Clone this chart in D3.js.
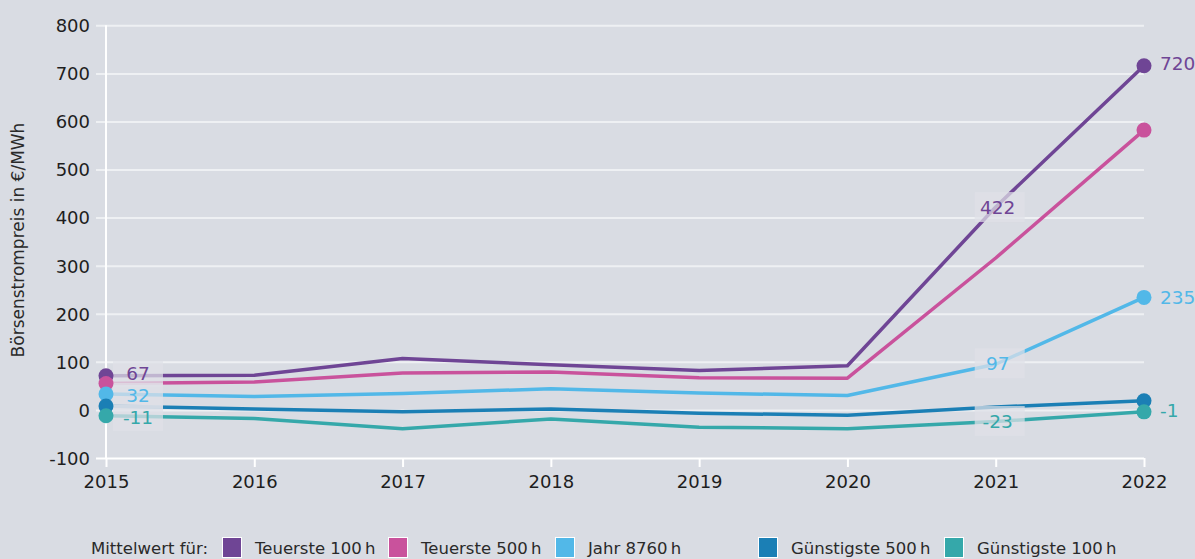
<!DOCTYPE html>
<html>
<head>
<meta charset="utf-8">
<script src="https://cdn.jsdelivr.net/npm/d3@7"></script>
<style>
  html, body { margin: 0; padding: 0; background: #d9dce3; }
  svg { display: block; font-family: "DejaVu Sans", sans-serif; }
</style>
</head>
<body>
<svg id="chart" width="1195" height="559"></svg>
<script>
// ---- data ----
const years = [2015, 2016, 2017, 2018, 2019, 2020, 2021, 2022];
const yTicks = [-100, 0, 100, 200, 300, 400, 500, 600, 700, 800];
const seriesNames = ["Teuerste 100\u202Fh", "Teuerste 500\u202Fh", "Jahr 8760\u202Fh", "Günstigste 500\u202Fh", "Günstigste 100\u202Fh"];
const seriesColors = ["#6f4595", "#c9529c", "#52b8e8", "#1b7fb5", "#35a8aa"];
const teuerste100 = [71, 72, 107, 94, 82, 92, 422, 716];
const teuerste500 = [55, 58, 77, 79, 67, 66, 316, 582];
const jahr8760 = [33, 28, 34, 44, 35, 30, 95, 234];
const guenstigste500 = [8, 2, -4, 2, -7, -11, 6, 19];
const guenstigste100 = [-12, -18, -39, -19, -36, -39, -24, -4];
const seriesValues = [teuerste100, teuerste500, jahr8760, guenstigste500, guenstigste100];
// labels: [2015 label, 2021 label, 2022 label] (null = none)
const labelsStart = ["67", null, "32", null, "-11"];
const labelsMid = ["422", null, "97", null, "-23"];
const labelsEnd = ["720", null, "235", null, "-1"];
const labelValStart = [67, null, 32, null, -11];
const labelValMid = [422, null, 97, null, -23];
const labelValEnd = [720, null, 235, null, -1];
const yTitle = "Börsenstrompreis in €/MWh";
const legendTitle = "Mittelwert für:";

// ---- layout ----
const svg = d3.select("#chart");
const x = d3.scaleLinear().domain([2015, 2022]).range([106, 1144]);
const y = d3.scaleLinear().domain([-100, 800]).range([458, 25.3]);
const fmt = d => String(d);

// gridlines + y ticks
const yAxis = d3.axisLeft(y).tickValues(yTicks).tickFormat(fmt).tickSizeOuter(0).tickSizeInner(0).tickPadding(16);
const gy = svg.append("g").attr("transform", "translate(106,0)").call(yAxis);
gy.select(".domain").remove();
gy.selectAll(".tick line").remove();
gy.selectAll(".tick").append("line")
  .attr("x1", -10).attr("x2", 1144 - 106)
  .attr("stroke", d => d === -100 ? "#ffffff" : "#eef0f3")
  .attr("stroke-width", 2);
gy.selectAll(".tick text")
  .attr("fill", "#1e1e1e").attr("font-size", 18).attr("font-family", "DejaVu Sans, sans-serif")
  .attr("x", -16).attr("dy", "0.35em");

// y axis vertical line
svg.append("line").attr("x1", 106).attr("x2", 106).attr("y1", y(800)).attr("y2", y(-100))
  .attr("stroke", "#ffffff").attr("stroke-width", 2);

// x axis
const xAxis = d3.axisBottom(x).tickValues(years).tickFormat(fmt).tickSizeOuter(0).tickSize(9).tickPadding(8);
const gx = svg.append("g").attr("transform", `translate(0,${y(-100)})`).call(xAxis);
gx.select(".domain").remove();
gx.selectAll(".tick line").attr("stroke", "#ffffff").attr("stroke-width", 2);
gx.selectAll(".tick text").attr("fill", "#1e1e1e").attr("font-size", 18).attr("font-family", "DejaVu Sans, sans-serif");

// y title
svg.append("text")
  .attr("transform", `translate(24,240) rotate(-90)`)
  .attr("text-anchor", "middle")
  .attr("font-size", 17)
  .attr("fill", "#2a2a2a")
  .text(yTitle);

// lines
const line = d3.line().x((d, i) => x(years[i])).y(d => y(d));
seriesValues.forEach((vals, si) => {
  svg.append("path").datum(vals)
    .attr("d", line)
    .attr("fill", "none")
    .attr("stroke", seriesColors[si])
    .attr("stroke-width", 3.5)
    .attr("stroke-linejoin", "round");
});

// spread label positions so they don't collide (min gap in px)
function spread(vals, gap) {
  const items = vals.map((v, i) => v === null ? null : { i, p: y(v) }).filter(d => d);
  items.sort((a, b) => a.p - b.p);
  for (let iter = 0; iter < 50; iter++) {
    let moved = false;
    for (let k = 1; k < items.length; k++) {
      const d = items[k].p - items[k - 1].p;
      if (d < gap) {
        const s = (gap - d) / 2;
        items[k - 1].p -= s; items[k].p += s; moved = true;
      }
    }
    if (!moved) break;
  }
  const out = vals.map(() => null);
  items.forEach(d => out[d.i] = d.p);
  return out;
}
const startPos = spread(labelValStart, 22);
const midPos = spread(labelValMid, 22);
const endPos = spread(labelValEnd, 22);

// label bands
const bandFill = "#dfe1e7";
const bands = svg.append("g");
seriesValues.forEach((vals, si) => {
  if (labelsStart[si] !== null) {
    bands.append("rect").attr("x", 113).attr("width", 50)
      .attr("y", startPos[si] - 13).attr("height", 26)
      .attr("fill", bandFill).attr("opacity", 0.72);
  }
  if (labelsMid[si] !== null) {
    bands.append("rect").attr("x", x(2021) - 21).attr("width", 50)
      .attr("y", midPos[si] - 15).attr("height", 30)
      .attr("fill", bandFill).attr("opacity", 0.72);
  }
});

// dots at ends
seriesValues.forEach((vals, si) => {
  [0, years.length - 1].forEach(i => {
    svg.append("circle").attr("cx", x(years[i])).attr("cy", y(vals[i])).attr("r", 7.5)
      .attr("fill", seriesColors[si]);
  });
});

// labels
seriesValues.forEach((vals, si) => {
  const col = seriesColors[si];
  if (labelsStart[si] !== null) {
    svg.append("text").attr("x", 138).attr("y", startPos[si])
      .attr("dy", "0.36em").attr("text-anchor", "middle")
      .attr("font-size", 18.5).attr("fill", col).text(labelsStart[si]);
  }
  if (labelsMid[si] !== null) {
    svg.append("text").attr("x", x(2021) + 2).attr("y", midPos[si])
      .attr("dy", "0.36em").attr("text-anchor", "middle")
      .attr("font-size", 18.5).attr("fill", col).text(labelsMid[si]);
  }
  if (labelsEnd[si] !== null) {
    svg.append("text").attr("x", x(2022) + 16).attr("y", endPos[si])
      .attr("dy", "0.36em").attr("text-anchor", "start")
      .attr("font-size", 18.5).attr("fill", col).text(labelsEnd[si]);
  }
});

// legend
const legendY = 548;
svg.append("text").attr("x", 91).attr("y", legendY).attr("dy", "0.35em")
  .attr("font-size", 16.5).attr("fill", "#2a2a2a").text(legendTitle);
const swatchX = [222, 388, 555, 758, 944];
const lg = svg.append("g");
seriesNames.forEach((name, i) => {
  lg.append("rect").attr("x", swatchX[i] + 0.5).attr("y", 537.5).attr("width", 19).attr("height", 20)
    .attr("fill", seriesColors[i]).attr("stroke", "#ffffff").attr("stroke-width", 1);
  lg.append("text").attr("x", swatchX[i] + 33).attr("y", legendY).attr("dy", "0.35em")
    .attr("font-size", 16.5).attr("fill", "#2a2a2a").text(name);
});
</script>
</body>
</html>
